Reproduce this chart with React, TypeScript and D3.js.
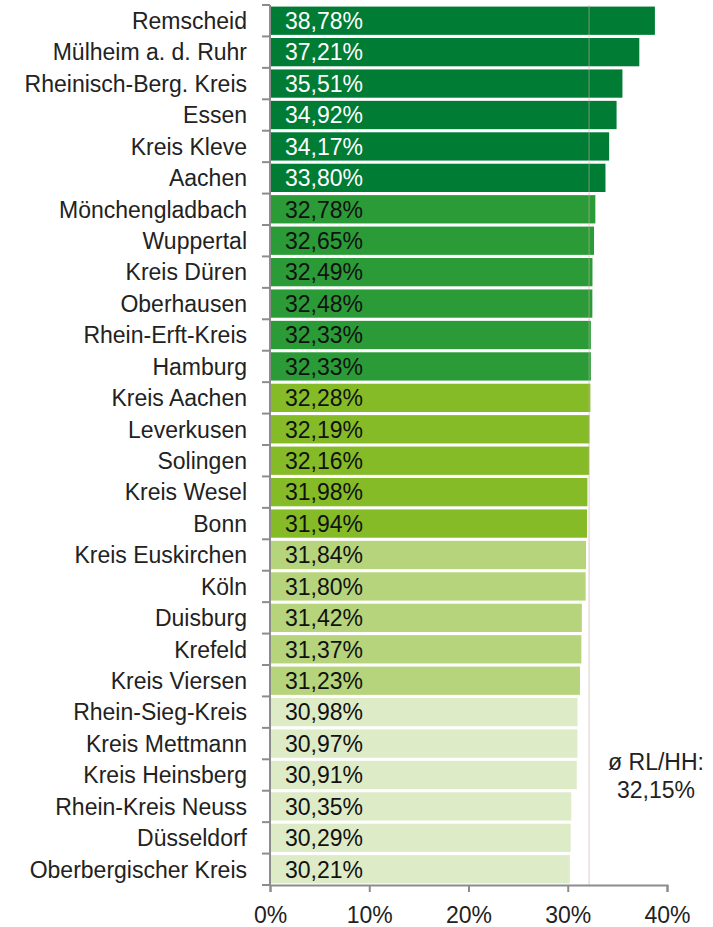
import React, { useEffect, useRef } from 'react';
import * as d3 from 'd3';

// data
const regions = [
  'Remscheid', 'Mülheim a. d. Ruhr', 'Rheinisch-Berg. Kreis', 'Essen', 'Kreis Kleve', 'Aachen',
  'Mönchengladbach', 'Wuppertal', 'Kreis Düren', 'Oberhausen', 'Rhein-Erft-Kreis', 'Hamburg',
  'Kreis Aachen', 'Leverkusen', 'Solingen', 'Kreis Wesel', 'Bonn',
  'Kreis Euskirchen', 'Köln', 'Duisburg', 'Krefeld', 'Kreis Viersen',
  'Rhein-Sieg-Kreis', 'Kreis Mettmann', 'Kreis Heinsberg', 'Rhein-Kreis Neuss', 'Düsseldorf', 'Oberbergischer Kreis',
];
const shares = [
  38.78, 37.21, 35.51, 34.92, 34.17, 33.80,
  32.78, 32.65, 32.49, 32.48, 32.33, 32.33,
  32.28, 32.19, 32.16, 31.98, 31.94,
  31.84, 31.80, 31.42, 31.37, 31.23,
  30.98, 30.97, 30.91, 30.35, 30.29, 30.21,
];
// colour group per bar (0 = darkest)
const groups = [
  0, 0, 0, 0, 0, 0,
  1, 1, 1, 1, 1, 1,
  2, 2, 2, 2, 2,
  3, 3, 3, 3, 3,
  4, 4, 4, 4, 4, 4,
];
const xTicks = [0, 10, 20, 30, 40];
const average = 32.15;
const averageLabel = ['ø RL/HH:', '32,15%'];

const groupFill = ['#007c35', '#2a9b37', '#84bb26', '#b6d47b', '#deebc7'];
const groupText = ['#ffffff', '#111111', '#111111', '#111111', '#111111'];

const fmt = (v: number) => v.toFixed(2).replace('.', ',') + '%';

const App: React.FC = () => {
  const svgRef = useRef<SVGSVGElement>(null);

  useEffect(() => {
    if (!svgRef.current) return;
    const svg = d3.select(svgRef.current);
    svg.selectAll('*').remove();

    const width = 713;
    const height = 927;
    const left = 270;
    const right = 667;
    const top = 5;
    const bottom = 885;
    const font = "'Liberation Sans', Arial, sans-serif";
    const fontSize = 23;
    const axisColor = '#8c8c8c';

    svg.attr('width', width).attr('height', height);

    const x = d3.scaleLinear().domain([0, 40]).range([left, right]);
    const y = d3.scaleBand<string>().domain(regions).range([top, bottom]).paddingInner(0.1).paddingOuter(0.05);
    const step = y.step();

    // bars
    const bars = svg.append('g');
    regions.forEach((r, i) => {
      bars.append('rect')
        .attr('x', x(0))
        .attr('y', y(r)!)
        .attr('width', x(shares[i]) - x(0))
        .attr('height', y.bandwidth())
        .attr('fill', groupFill[groups[i]]);

      bars.append('text')
        .attr('x', x(0) + 15)
        .attr('y', y(r)! + y.bandwidth() / 2)
        .attr('dy', '0.36em')
        .attr('font-family', font)
        .attr('font-size', fontSize)
        .attr('fill', groupText[groups[i]])
        .text(fmt(shares[i]));

      // category labels
      svg.append('text')
        .attr('x', left - 23)
        .attr('y', y(r)! + y.bandwidth() / 2)
        .attr('dy', '0.36em')
        .attr('text-anchor', 'end')
        .attr('font-family', font)
        .attr('font-size', fontSize)
        .attr('fill', '#222')
        .text(r);
    });

    // average line
    svg.append('line')
      .attr('x1', x(average)).attr('x2', x(average))
      .attr('y1', top).attr('y2', bottom)
      .attr('stroke', '#d4a8a8')
      .attr('stroke-opacity', 0.6)
      .attr('stroke-width', 1);

    averageLabel.forEach((t, i) => {
      svg.append('text')
        .attr('x', 656)
        .attr('y', 770 + i * 28)
        .attr('text-anchor', 'middle')
        .attr('font-family', font)
        .attr('font-size', fontSize)
        .attr('fill', '#222')
        .text(t);
    });

    // y axis line and category ticks
    svg.append('line')
      .attr('x1', left).attr('x2', left)
      .attr('y1', top).attr('y2', bottom)
      .attr('stroke', axisColor).attr('stroke-width', 2);
    d3.range(regions.length + 1).forEach(k => {
      svg.append('line')
        .attr('x1', left - 8).attr('x2', left)
        .attr('y1', top + k * step).attr('y2', top + k * step)
        .attr('stroke', axisColor).attr('stroke-width', 2);
    });

    // x axis
    const xAxis = svg.append('g')
      .attr('transform', `translate(0,${bottom})`)
      .call(d3.axisBottom(x).tickValues(xTicks).tickSize(7).tickPadding(15).tickFormat(d => `${d}%`));
    xAxis.select('.domain').attr('stroke', axisColor).attr('stroke-width', 2);
    xAxis.selectAll('.tick line').attr('stroke', axisColor).attr('stroke-width', 2);
    xAxis.selectAll('.tick text')
      .attr('font-family', font)
      .attr('font-size', fontSize)
      .attr('fill', '#222');
  }, []);

  return (
    <svg ref={svgRef} style={{ position: 'absolute', left: 0, top: 0, display: 'block' }} />
  );
};

export default App;
